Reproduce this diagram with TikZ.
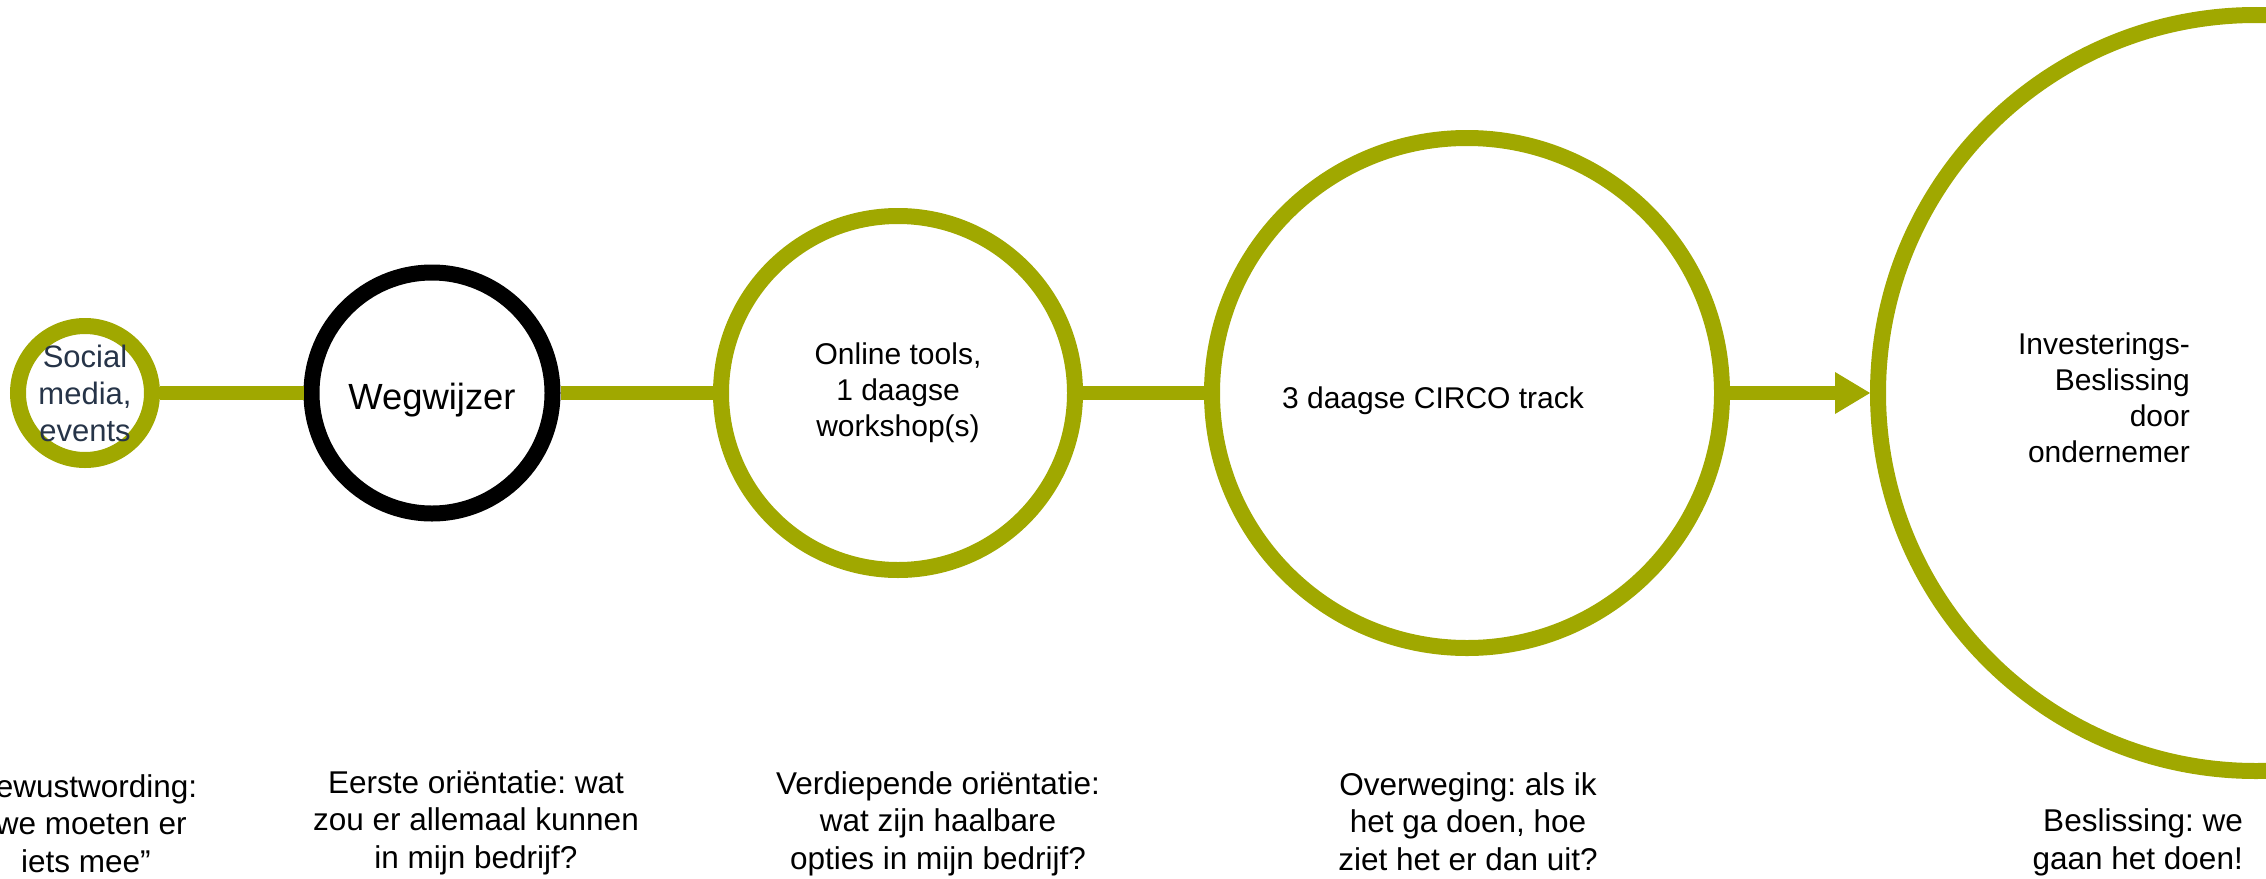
\documentclass[tikz,border=0pt]{standalone}
\usepackage{fontspec}
\setmainfont{Liberation Sans}
\frenchspacing
\usetikzlibrary{positioning,arrows.meta}

\definecolor{circoGreen}{RGB}{160,168,0}
\definecolor{socialInk}{RGB}{38,52,72}

\tikzset{
    ring/.style={circle, draw=circoGreen, line width=16pt, inner sep=0pt},
    ringText/.style={font=\fontsize{30}{36}\selectfont, align=center, inner sep=0pt},
    phase/.style={font=\fontsize{31.5}{37.5}\selectfont, align=center, anchor=base, inner sep=0pt},
    link/.style={draw=circoGreen, line width=14pt},
}

\begin{document}
\begin{tikzpicture}[x=1pt, y=-1pt]
    \useasboundingbox (0,0) rectangle (2266,878);

    \node [ring] (social)    at (85,393)   [minimum size=134pt] [ringText, text=socialInk, font=\fontsize{31}{37}\selectfont] {Social\\media,\\events};
    \node [ring] (wegwijzer) at (432,393)  [minimum size=241pt] [draw=black, font=\fontsize{36.4}{40}\selectfont, text height=34pt, text depth=2pt] {Wegwijzer};
    \node [ring] (online)    at (898,393)  [minimum size=354pt] [ringText] {Online tools,\\1 daagse\\workshop(s)};
    \node [ring] (circo)     at (1467,393) [minimum size=510pt] {};
    \node [ring] (decision)  at (2256,393) [minimum size=756pt] {};

    % base of a multi-line node sits on its last line
    \node [ringText] [anchor=base]                    (circotext)    at (1433,408) {3 daagse CIRCO track};
    \node [ringText] [align=right] [anchor=base east] (decisiontext) at (2190,462) {Investerings-\\Beslissing\\door~\\ondernemer};

    \draw [link] (social)    -- (wegwijzer);
    \draw [link] (wegwijzer) -- (online);
    \draw [link] (online)    -- (circo);
    \draw [link, -{Triangle[length=35pt, width=42pt, line width=0pt]}] (circo) -- (decision);

    % phases along the bottom
    \node [phase] (bewust)     at (86,872)   {Bewustwording:\\“we moeten er\\iets mee”};
    \node [phase] (eerste)     at (476,868)  {Eerste oriëntatie: wat\\zou er allemaal kunnen\\in mijn bedrijf?};
    \node [phase] (verdiepend) at (938,869)  {Verdiepende oriëntatie:\\wat zijn haalbare\\opties in mijn bedrijf?};
    \node [phase] (overweging) at (1468,870) {Overweging: als ik\\het ga doen, hoe\\ziet het er dan uit?};
    \node [phase] [align=right] [anchor=base east] (beslissing) at (2243,869) {Beslissing: we\\gaan het doen!};
\end{tikzpicture}
\end{document}
